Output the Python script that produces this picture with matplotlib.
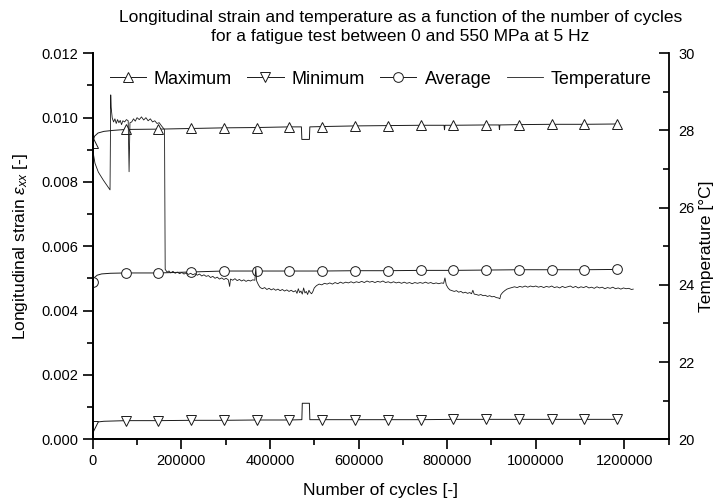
import matplotlib
matplotlib.use("Agg")
import matplotlib.pyplot as plt

plt.rcParams['font.family'] = ['Liberation Sans', 'DejaVu Sans']
plt.rcParams['mathtext.fontset'] = 'custom'
plt.rcParams['mathtext.rm'] = 'Liberation Sans'
plt.rcParams['mathtext.it'] = 'Liberation Sans:italic'

# ---- data ----
# strain, maximum (cycles, strain x 1e-3)
max_cyc = [0, 4000, 12000, 25000, 45000, 74000, 148000, 222000, 296000, 370000,
           444000, 471000, 472000, 489000, 490000, 518000, 592000, 666000, 740000,
           793000, 794000, 795000, 814000, 888000, 917000, 918000, 919000, 962000,
           1036000, 1110000, 1184000]
max_val = [9.22, 9.42, 9.52, 9.57, 9.60, 9.63, 9.64, 9.66, 9.68, 9.69,
           9.71, 9.71, 9.32, 9.32, 9.71, 9.72, 9.74, 9.75, 9.76,
           9.76, 9.62, 9.76, 9.76, 9.77, 9.77, 9.63, 9.77, 9.78,
           9.79, 9.79, 9.80]

# strain, average
avg_cyc = [0, 3000, 10000, 20000, 40000, 74000, 148000, 222000, 296000, 370000,
           444000, 518000, 592000, 666000, 740000, 814000, 888000, 962000,
           1036000, 1110000, 1184000]
avg_val = [4.89, 5.02, 5.10, 5.14, 5.16, 5.17, 5.17, 5.20, 5.23, 5.23,
           5.23, 5.23, 5.24, 5.24, 5.25, 5.25, 5.26, 5.27, 5.27, 5.27, 5.28]

# strain, minimum
min_cyc = [0, 4000, 12000, 25000, 74000, 148000, 222000, 296000, 370000, 444000,
           472000, 473000, 489000, 490000, 518000, 592000, 666000, 740000, 814000,
           888000, 962000, 1036000, 1110000, 1184000]
min_val = [0.42, 0.50, 0.54, 0.56, 0.58, 0.58, 0.59, 0.59, 0.60, 0.60,
           0.61, 1.12, 1.12, 0.61, 0.61, 0.61, 0.61, 0.61, 0.62,
           0.62, 0.62, 0.62, 0.62, 0.62]

marker_cyc = [74000 * i for i in range(17)]

# temperature (cycles, degC)
temp_cyc = [0, 5000, 12600, 24000, 39000, 40600, 41500, 44000, 47000, 50000,
            53000, 56000, 59000, 62000, 65000, 68000, 72000, 76000, 80000, 82000,
            84000, 88000, 92000, 96000, 100000, 105000, 110000, 115000, 120000, 125000,
            130000, 135000, 140000, 145000, 150000, 155000, 160000, 162000, 163500, 168000,
            172000, 176000, 181000, 186000, 191000, 196000, 201000, 206000, 211000, 216000,
            221000, 226000, 231000, 236000, 241000, 246000, 251000, 256000, 261000, 266000,
            271000, 276000, 281000, 286000, 291000, 296000, 301000, 306000, 309000, 311000,
            316000, 321000, 326000, 331000, 336000, 341000, 346000, 351000, 356000, 361000,
            366000, 368000, 370000, 374000, 378000, 383000, 388000, 393000, 398000, 403000,
            408000, 413000, 418000, 423000, 428000, 433000, 438000, 443000, 448000, 453000,
            458000, 461000, 464000, 467000, 470000, 473000, 476000, 479000, 482000, 485000,
            488000, 491000, 494000, 497000, 500000, 505000, 511000, 517000, 523000, 529000,
            535000, 541000, 547000, 553000, 559000, 565000, 571000, 577000, 583000, 589000,
            595000, 601000, 607000, 613000, 619000, 625000, 631000, 637000, 643000, 649000,
            655000, 661000, 667000, 673000, 679000, 685000, 691000, 697000, 703000, 709000,
            715000, 721000, 727000, 733000, 739000, 745000, 751000, 757000, 763000, 769000,
            775000, 781000, 787000, 792000, 795000, 798000, 802000, 806000, 811000, 816000,
            821000, 826000, 831000, 836000, 841000, 846000, 851000, 855000, 858000, 861000,
            866000, 871000, 876000, 881000, 886000, 891000, 896000, 901000, 906000, 911000,
            916000, 919000, 921000, 925000, 930000, 935000, 940000, 946000, 952000, 958000,
            964000, 970000, 976000, 982000, 988000, 994000, 1000000, 1006000, 1012000, 1018000,
            1024000, 1030000, 1036000, 1042000, 1048000, 1054000, 1060000, 1066000, 1072000, 1078000,
            1084000, 1090000, 1096000, 1102000, 1108000, 1114000, 1120000, 1126000, 1132000, 1138000,
            1144000, 1150000, 1156000, 1162000, 1168000, 1174000, 1180000, 1186000, 1192000, 1198000,
            1204000, 1210000, 1216000, 1220000]
temp_val = [27.49, 27.15, 26.92, 26.71, 26.46, 28.92, 28.60, 28.32, 28.22, 28.30,
            28.18, 28.28, 28.20, 28.26, 28.15, 28.25, 28.22, 28.28, 28.25, 26.93,
            28.20, 28.22, 28.30, 28.24, 28.33, 28.28, 28.35, 28.27, 28.33, 28.25,
            28.30, 28.22, 28.25, 28.18, 28.20, 28.12, 28.05, 28.02, 24.40, 24.33,
            24.36, 24.31, 24.35, 24.30, 24.33, 24.29, 24.32, 24.28, 24.31, 24.27,
            24.30, 24.26, 24.29, 24.25, 24.28, 24.23, 24.26, 24.22, 24.24, 24.19,
            24.22, 24.17, 24.20, 24.15, 24.18, 24.14, 24.17, 24.13, 23.96, 24.15,
            24.12, 24.16, 24.11, 24.14, 24.10, 24.13, 24.09, 24.12, 24.10, 24.13,
            24.12, 24.45, 24.10, 24.00, 23.93, 23.90, 23.93, 23.88, 23.91, 23.87,
            23.90, 23.86, 23.89, 23.85, 23.88, 23.84, 23.87, 23.83, 23.86, 23.82,
            23.85, 23.78, 23.90, 23.80, 23.84, 23.76, 23.92, 23.79, 23.83, 23.75,
            23.86, 23.80, 23.77, 23.83, 23.92, 23.98, 24.02, 24.00, 24.04, 24.02,
            24.05, 24.02, 24.06, 24.03, 24.07, 24.04, 24.07, 24.05, 24.08, 24.05,
            24.08, 24.06, 24.09, 24.06, 24.10, 24.07, 24.09, 24.06, 24.09, 24.07,
            24.10, 24.06, 24.08, 24.05, 24.08, 24.05, 24.07, 24.04, 24.07, 24.04,
            24.06, 24.03, 24.06, 24.04, 24.06, 24.04, 24.07, 24.04, 24.06, 24.03,
            24.05, 24.03, 24.05, 24.04, 24.18, 24.00, 23.92, 23.87, 23.85, 23.83,
            23.85, 23.81, 23.83, 23.79, 23.81, 23.78, 23.80, 23.77, 23.86, 23.76,
            23.75, 23.73, 23.75, 23.72, 23.73, 23.70, 23.72, 23.69, 23.70, 23.67,
            23.66, 23.64, 23.74, 23.80, 23.85, 23.89, 23.91, 23.93, 23.95, 23.93,
            23.96, 23.94, 23.97, 23.94, 23.97, 23.95, 23.97, 23.94, 23.96, 23.93,
            23.96, 23.94, 23.97, 23.93, 23.95, 23.92, 23.96, 23.93, 23.95, 23.97,
            23.93, 23.96, 23.92, 23.95, 23.93, 23.96, 23.92, 23.94, 23.91, 23.95,
            23.92, 23.94, 23.90, 23.93, 23.91, 23.94, 23.90, 23.92, 23.89, 23.92,
            23.90, 23.91, 23.88, 23.89]

# ---- figure ----
fig = plt.figure(figsize=(7.19, 5.0), dpi=100)
ax = fig.add_axes([0.129, 0.1214, 0.801, 0.7722])
ax2 = ax.twinx()

lc = '0.1'
lw = 0.7
ms = 7
mk = dict(markerfacecolor='white', markeredgecolor=lc, markeredgewidth=0.7)

def marks(cyc):
    return [i for i, c in enumerate(cyc) if c in marker_cyc]

l1, = ax.plot(max_cyc, [v / 1000 for v in max_val], color=lc, lw=lw,
              marker='^', ms=ms, markevery=marks(max_cyc), label='Maximum', **mk)
l2, = ax.plot(min_cyc, [v / 1000 for v in min_val], color=lc, lw=lw,
              marker='v', ms=ms, markevery=marks(min_cyc), label='Minimum', **mk)
l3, = ax.plot(avg_cyc, [v / 1000 for v in avg_val], color=lc, lw=lw,
              marker='o', ms=ms, markevery=marks(avg_cyc), label='Average', **mk)
l4, = ax2.plot(temp_cyc, temp_val, color=lc, lw=0.6, label='Temperature')

ax.set_xlim(0, 1300000)
ax.set_ylim(0, 0.012)
ax2.set_ylim(20, 30)

ax.set_xticks(range(0, 1300001, 200000))
ax.set_xticks(range(100000, 1300001, 200000), minor=True)
ax.set_yticks([0.000, 0.002, 0.004, 0.006, 0.008, 0.010, 0.012])
ax.set_yticklabels(['0.000', '0.002', '0.004', '0.006', '0.008', '0.010', '0.012'])
ax.set_yticks([0.001, 0.003, 0.005, 0.007, 0.009, 0.011], minor=True)
ax2.set_yticks([20, 22, 24, 26, 28, 30])
ax2.set_yticks([21, 23, 25, 27, 29], minor=True)
ax.set_xticklabels(['0', '200000', '400000', '600000', '800000', '1000000', '1200000'])

for a in (ax, ax2):
    a.spines['top'].set_visible(False)
    for s in a.spines.values():
        s.set_linewidth(1.3)
ax.spines['right'].set_visible(False)
ax.tick_params(which='major', direction='out', length=7, width=1.2, labelsize=10.5)
ax.tick_params(which='minor', direction='out', length=4, width=1.2)
ax2.tick_params(which='major', direction='in', length=7, width=1.2, labelsize=10.5, pad=7)
ax2.tick_params(which='minor', direction='in', length=4, width=1.2)

ax.set_xlabel('Number of cycles [-]', fontsize=12.5, labelpad=11)
ax.set_ylabel(r'Longitudinal strain $\epsilon_{xx}$ [-]', fontsize=12.5, labelpad=8)
ax2.set_ylabel('Temperature [\u00b0C]', fontsize=12.5, labelpad=3)

fig.suptitle('Longitudinal strain and temperature as a function of the number of cycles\n'
             'for a fatigue test between 0 and 550 MPa at 5 Hz',
             x=0.557, y=0.98, fontsize=12.5, linespacing=1.32)

ax2.legend(handles=[l1, l2, l3, l4], loc='upper center', bbox_to_anchor=(0.5, 0.997),
           ncol=4, frameon=False, fontsize=13, handlelength=2.0, columnspacing=0.85,
           handletextpad=0.45)

fig.savefig('out.png', dpi=100)
